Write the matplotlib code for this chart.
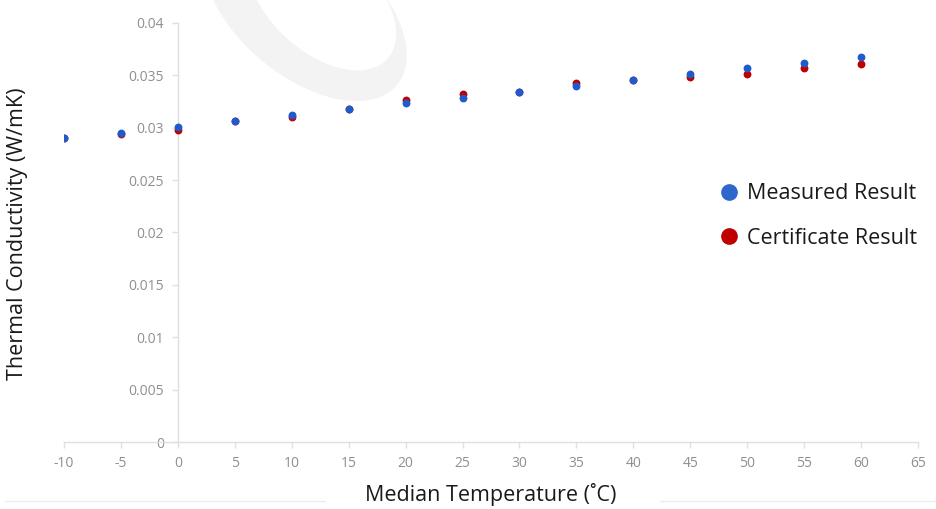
import matplotlib.pyplot as plt
from matplotlib.patches import Ellipse
from matplotlib.lines import Line2D

plt.rcParams['font.family'] = ['Open Sans', 'DejaVu Sans']
plt.rcParams['axes.unicode_minus'] = False

# data
temps = [-10, -5, 0, 5, 10, 15, 20, 25, 30, 35, 40, 45, 50, 55, 60]
measured = [0.02902, 0.02953, 0.03010, 0.03062, 0.03120, 0.03176, 0.03232, 0.03284,
            0.03344, 0.03400, 0.03453, 0.03510, 0.03566, 0.03620, 0.03675]
certificate = [0.02900, 0.02937, 0.02981, 0.03062, 0.03100, 0.03176, 0.03268, 0.03320,
               0.03344, 0.03430, 0.03453, 0.03484, 0.03513, 0.03575, 0.03610]

W, H = 937, 509
fig = plt.figure(figsize=(W / 100, H / 100), dpi=100)

# background layer in pixel coordinates for the faint watermark ring
bg = fig.add_axes([0, 0, 1, 1], zorder=-1)
bg.set_xlim(0, W)
bg.set_ylim(H, 0)
bg.axis('off')
bg.add_patch(Ellipse((305, 8), 240, 136, angle=40, facecolor='#f3f3f3', edgecolor='none'))
bg.add_patch(Ellipse((322, 0), 176, 104, angle=42, facecolor='white', edgecolor='none'))
# faint separators at the bottom
bg.plot([5, 325], [501, 501], color='#ececec', linewidth=1)
bg.plot([660, W], [501, 501], color='#ececec', linewidth=1)

ax = fig.add_axes([64 / W, (H - 442) / H, (918 - 64) / W, (442 - 23) / H])
ax.set_facecolor('none')

ax.scatter(temps, certificate, s=32, color='#c00000', zorder=3, linewidths=0)
ax.scatter(temps, measured, s=32, color='#1f5bcc', zorder=4, linewidths=0)

ax.set_xlim(-10, 65)
ax.set_ylim(0, 0.04)
ax.set_xticks(range(-10, 66, 5))
ax.set_yticks([0, 0.005, 0.01, 0.015, 0.02, 0.025, 0.03, 0.035, 0.04])
ax.set_yticklabels(['0', '0.005', '0.01', '0.015', '0.02', '0.025', '0.03', '0.035', '0.04'])

for s in ['top', 'right']:
    ax.spines[s].set_visible(False)
ax.spines['left'].set_position(('data', 0))
ax.spines['bottom'].set_position(('data', 0))
for s in ['left', 'bottom']:
    ax.spines[s].set_color('#e0e0e0')
    ax.spines[s].set_linewidth(1)
ax.tick_params(axis='both', colors='#e0e0e0', labelcolor='#8f8f8f', labelsize=10,
               length=4, width=1)
ax.tick_params(axis='x', pad=6)
ax.tick_params(axis='y', pad=6)

fig.text(491 / W, 1 - 495 / H, 'Median Temperature (˚C)', ha='center', va='center',
         fontsize=15.5, color='#1a1a1a')
fig.text(18 / W, 1 - 234 / H, 'Thermal Conductivity (W/mK)', ha='center', va='center',
         rotation=90, fontsize=15.5, color='#1a1a1a')

handles = [Line2D([], [], marker='o', linestyle='none', markersize=11, color='#2e66cc'),
           Line2D([], [], marker='o', linestyle='none', markersize=11, color='#c00000')]
leg = fig.legend(handles, ['Measured Result', 'Certificate Result'], loc='center left',
                 bbox_to_anchor=(697 / W, 1 - 216 / H), frameon=False, fontsize=15.5,
                 handletextpad=0.2, labelspacing=1.1, handlelength=1.2)
for t in leg.get_texts():
    t.set_color('#1a1a1a')

fig.savefig('out.png', dpi=100)
